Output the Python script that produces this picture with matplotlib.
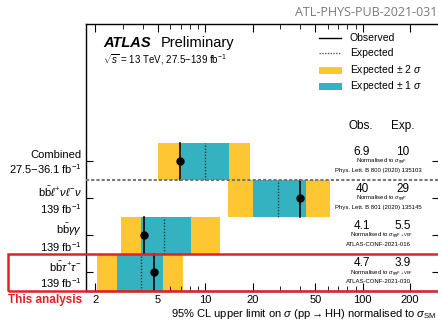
import matplotlib
matplotlib.use("Agg")
import matplotlib.pyplot as plt
from matplotlib.patches import Rectangle
from matplotlib.lines import Line2D
from matplotlib.ticker import FixedLocator, NullFormatter, FixedFormatter

plt.rcParams['font.family'] = ['Liberation Sans', 'DejaVu Sans']
plt.rcParams['mathtext.fontset'] = 'custom'
plt.rcParams['mathtext.rm'] = 'Liberation Sans'
plt.rcParams['mathtext.it'] = 'Liberation Sans:italic'
plt.rcParams['mathtext.bf'] = 'Liberation Sans:bold'

# ---- data (bottom to top) ----
channels = [r"$\mathrm{b\bar{b}}\tau^{+}\tau^{-}$", r"$\mathrm{b\bar{b}}\gamma\gamma$",
            r"$\mathrm{b\bar{b}}\ell^{+}\nu\ell^{-}\nu$", "Combined"]
lumis = [r"139 fb$^{-1}$", r"139 fb$^{-1}$", r"139 fb$^{-1}$", r"27.5$-$36.1 fb$^{-1}$"]
obs = [4.7, 4.1, 40, 6.9]
exp = [3.9, 5.5, 29, 10]
minus1 = [2.76, 3.92, 20.2, 7.03]
plus1 = [5.38, 8.14, 43.7, 14.2]
minus2 = [2.06, 2.93, 14.0, 5.02]
plus2 = [7.21, 12.4, 62.1, 19.3]
obs_txt = ["4.7", "4.1", "40", "6.9"]
exp_txt = ["3.9", "5.5", "29", "10"]
norm_txt = [r"Normalised to $\sigma_{\mathrm{ggF+VBF}}$", r"Normalised to $\sigma_{\mathrm{ggF+VBF}}$",
            r"Normalised to $\sigma_{\mathrm{ggF}}$", r"Normalised to $\sigma_{\mathrm{ggF}}$"]
refs = ["ATLAS-CONF-2021-030", "ATLAS-CONF-2021-016",
        "Phys. Lett. B 801 (2020) 135145", "Phys. Lett. B 800 (2020) 135103"]
xticks = [2, 5, 10, 20, 50, 100, 200]
xticklabels = ["2", "5", "10", "20", "50", "100", "200"]
xminor = [3, 4, 6, 7, 8, 9, 30, 40, 60, 70, 80, 90, 300]

YELLOW = '#fec633'
CYAN = '#35b2bf'
RED = '#e3202a'

W, H = 438, 321
fig = plt.figure(figsize=(W / 100, H / 100), dpi=100)

def fx(x):
    return x / W

def fy(y):
    return 1 - y / H

ax_l, ax_r, ax_t, ax_b = 86, 439, 24, 291
ax = fig.add_axes([fx(ax_l), fy(ax_b), (ax_r - ax_l) / W, (ax_b - ax_t) / H])
ax.set_xscale('log')
ax.set_xlim(1.75, 305)
ax.set_ylim(-0.5, 6.7)

for i in range(len(obs)):
    ax.barh(i, plus2[i] - minus2[i], left=minus2[i], height=1.0, color=YELLOW, lw=0, zorder=1)
    ax.barh(i, plus1[i] - minus1[i], left=minus1[i], height=1.0, color=CYAN, lw=0, zorder=2)
    ax.plot([exp[i], exp[i]], [i - 0.5, i + 0.5], color='#1f3f45', ls=(0, (1, 1.2)), lw=1.0, zorder=3)
    ax.plot([obs[i], obs[i]], [i - 0.5, i + 0.5], color='black', lw=1.2, zorder=4)
    ax.plot(obs[i], i, 'o', color='black', ms=5, zorder=5)

ax.axhline(2.5, color='#777777', ls=(0, (1.5, 1)), lw=1.5, zorder=6)

ax.xaxis.set_major_locator(FixedLocator(xticks))
ax.xaxis.set_major_formatter(FixedFormatter(xticklabels))
ax.xaxis.set_minor_locator(FixedLocator(xminor))
ax.xaxis.set_minor_formatter(NullFormatter())
ax.tick_params(axis='x', which='major', direction='in', length=6, top=True, labelsize=8, pad=3)
ax.tick_params(axis='x', which='minor', direction='in', length=3.5, top=True)
ax.set_yticks(range(len(obs)))
ax.set_yticklabels([f"{c}\n{l}" for c, l in zip(channels, lumis)], fontsize=8,
                   multialignment='right', linespacing=1.2)
ax.tick_params(axis='y', which='major', direction='in', length=5, right=True, pad=3)
ax.tick_params(axis='y', which='minor', left=False, right=False)
for s in ax.spines.values():
    s.set_linewidth(1.0)

# right column text
for i in range(len(obs)):
    ycen_px = ax_b - (i + 0.5) / 7.2 * (ax_b - ax_t)
    fig.text(fx(362), fy(ycen_px - 9), obs_txt[i], ha='center', va='center', fontsize=8.5)
    fig.text(fx(403), fy(ycen_px - 9), exp_txt[i], ha='center', va='center', fontsize=8.5)
    fig.text(fx(382), fy(ycen_px + 1), norm_txt[i], ha='center', va='center', fontsize=4.3)
    fig.text(fx(378), fy(ycen_px + 9), refs[i], ha='center', va='center', fontsize=4.3)

fig.text(fx(361), fy(126), "Obs.", ha='center', va='center', fontsize=8.5)
fig.text(fx(403), fy(126), "Exp.", ha='center', va='center', fontsize=8.5)

# ATLAS label
fig.text(fx(103), fy(43), "ATLAS", fontsize=10.5, fontweight='bold', fontstyle='italic', va='center')
fig.text(fx(161), fy(43), "Preliminary", fontsize=10.5, va='center')
fig.text(fx(103), fy(60), r"$\sqrt{s}$ = 13 TeV, 27.5$-$139 fb$^{-1}$", fontsize=7, va='center')

# legend
fig.add_artist(Line2D([fx(319), fx(341)], [fy(38), fy(38)], color='black', lw=1.0))
fig.add_artist(Line2D([fx(319), fx(341)], [fy(53), fy(53)], color='#555555', lw=1.0, ls=(0, (1, 1))))
fig.add_artist(Rectangle((fx(319), fy(74)), 23 / W, 7 / H, transform=fig.transFigure,
                         facecolor=YELLOW, lw=0))
fig.add_artist(Rectangle((fx(319), fy(90)), 23 / W, 7 / H, transform=fig.transFigure,
                         facecolor=CYAN, lw=0))
fig.text(fx(350), fy(38), "Observed", fontsize=7.5, va='center')
fig.text(fx(350), fy(53), "Expected", fontsize=7.5, va='center')
fig.text(fx(350), fy(70), r"Expected $\pm$ 2 $\sigma$", fontsize=7.5, va='center')
fig.text(fx(350), fy(86), r"Expected $\pm$ 1 $\sigma$", fontsize=7.5, va='center')

# x label
fig.text(fx(437), fy(314), r"95% CL upper limit on $\sigma$ (pp$\rightarrow$HH) normalised to $\sigma_{\mathrm{SM}}$",
         ha='right', va='center', fontsize=8)

# document id
fig.text(fx(437), fy(13), "ATL-PHYS-PUB-2021-031", ha='right', va='center', fontsize=9,
         color='#7a7a7a', family=['Open Sans', 'DejaVu Sans'])

# red highlight
fig.add_artist(Rectangle((fx(8), fy(291)), (445 - 8) / W, 37 / H, transform=fig.transFigure,
                         facecolor='none', edgecolor=RED, lw=1.8, zorder=20))
fig.text(fx(8), fy(300), "This analysis", color=RED, fontsize=8.5, fontweight='bold', va='center',
         family=['Liberation Sans Narrow', 'Liberation Sans'])

fig.savefig("out.png", dpi=100)
